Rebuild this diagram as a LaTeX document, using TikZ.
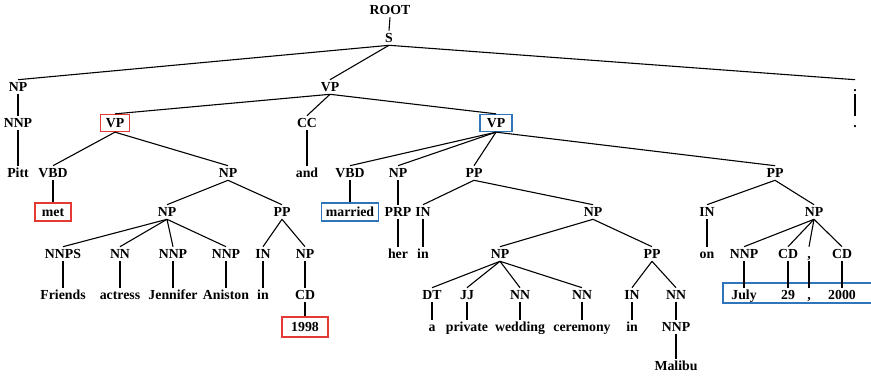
\documentclass[tikz,border=0pt]{standalone}
\usepackage{fontspec}
\setmainfont{Liberation Serif}
\definecolor{boxred}{RGB}{229,57,53}
\definecolor{boxblue}{RGB}{47,117,188}

\begin{document}
\begin{tikzpicture}[x=1pt, y=-1pt, line width=1.1pt,
    lbl/.style={font=\fontsize{13.8}{16}\selectfont\bfseries, inner sep=2pt, text height=9.5pt, text depth=0pt},
    redbox/.style={lbl, draw=boxred, line width=1.3pt, inner ysep=3.75pt},
    bluebox/.style={lbl, draw=boxblue, line width=1.3pt, inner ysep=3.75pt}]
	\useasboundingbox (0,0) rectangle (871,377);

	% tags and words, row by row
	\node[lbl] (root)  at (390,  10) {ROOT};
	\node[lbl] (s)     at (389,  38) {S};

	\node[lbl] (np1)   at (18 ,  87) {NP};
	\node[lbl] (vp1)   at (330,  87) {VP};
	\node[lbl] (pt1)   at (855,  87) {.};

	\node[lbl]     (nnp1) at (18 , 123) {NNP};
	\node[redbox, minimum width=29pt]  (vp2) at (115, 123) {VP};
	\node[lbl]     (cc)   at (307, 123) {CC};
	\node[bluebox, minimum width=32pt] (vp3) at (496, 123) {VP};
	\node[lbl]     (pt2)  at (855, 123) {.};

	\node[lbl] (pitt)  at (18 , 173) {Pitt};
	\node[lbl] (vbd1)  at (53 , 173) {VBD};
	\node[lbl] (np2)   at (228, 173) {NP};
	\node[lbl] (and)   at (307, 173) {and};
	\node[lbl] (vbd2)  at (350, 173) {VBD};
	\node[lbl] (np3)   at (398, 173) {NP};
	\node[lbl] (pp1)   at (474, 173) {PP};
	\node[lbl] (pp2)   at (775, 173) {PP};

	\node[redbox, minimum width=36pt, minimum height=18pt]  (met) at (53, 212) {met};
	\node[lbl] (np4)   at (167, 212) {NP};
	\node[lbl] (pp3)   at (282, 212) {PP};
	\node[bluebox, minimum width=57pt, minimum height=18pt] (married) at (350, 212) {married};
	\node[lbl] (prp)   at (398, 212) {PRP};
	\node[lbl] (in1)   at (423, 212) {IN};
	\node[lbl] (np5)   at (593, 212) {NP};
	\node[lbl] (in2)   at (707, 212) {IN};
	\node[lbl] (np6)   at (814, 212) {NP};

	\node[lbl] (nnps)  at (63 , 254) {NNPS};
	\node[lbl] (nn1)   at (120, 254) {NN};
	\node[lbl] (nnp2)  at (173, 254) {NNP};
	\node[lbl] (nnp3)  at (226, 254) {NNP};
	\node[lbl] (in3)   at (263, 254) {IN};
	\node[lbl] (np7)   at (305, 254) {NP};
	\node[lbl] (her)   at (398, 254) {her};
	\node[lbl] (win1)  at (423, 254) {in};
	\node[lbl] (np8)   at (500, 254) {NP};
	\node[lbl] (pp4)   at (652, 254) {PP};
	\node[lbl] (on)    at (707, 254) {on};
	\node[lbl] (nnp4)  at (744, 254) {NNP};
	\node[lbl] (cd1)   at (788, 254) {CD};
	\node[lbl] (cm1)   at (809, 254) {,};
	\node[lbl] (cd2)   at (842, 254) {CD};

	\node[lbl] (friends)  at (63 , 295) {Friends};
	\node[lbl] (actress)  at (120, 295) {actress};
	\node[lbl] (jennifer) at (173, 295) {Jennifer};
	\node[lbl] (aniston)  at (226, 295) {Aniston};
	\node[lbl] (win2)     at (263, 295) {in};
	\node[lbl] (cd3)      at (305, 295) {CD};
	\node[lbl] (dt)       at (432, 295) {DT};
	\node[lbl] (jj)       at (467, 295) {JJ};
	\node[lbl] (nn2)      at (520, 295) {NN};
	\node[lbl] (nn3)      at (582, 295) {NN};
	\node[lbl] (in4)      at (632, 295) {IN};
	\node[lbl] (nn4)      at (676, 295) {NN};
	\node[lbl] (july)     at (744, 295) {July};
	\node[lbl] (d29)      at (788, 295) {29};
	\node[lbl] (cm2)      at (809, 295) {,};
	\node[lbl] (d2000)    at (842, 295) {2000};

	\node[redbox, minimum width=46pt, minimum height=20pt] (d1998) at (305, 327) {1998};
	\node[lbl] (a)        at (432, 327) {a};
	\node[lbl] (private)  at (467, 327) {private};
	\node[lbl] (wedding)  at (520, 327) {wedding};
	\node[lbl] (ceremony) at (582, 327) {ceremony};
	\node[lbl] (win3)     at (632, 327) {in};
	\node[lbl] (nnp5)     at (676, 327) {NNP};

	\node[lbl] (malibu)   at (676, 366) {Malibu};

	% box round the date
	\draw[boxblue, line width=1.3pt] (723,283) rectangle (874,303);

	\def\branches {root/s, s/np1, s/vp1, s/pt1, np1/nnp1, nnp1/pitt, pt1/pt2,
		vp1/vp2, vp1/cc, vp1/vp3, cc/and, vp2/vbd1, vp2/np2, vbd1/met,
		np2/np4, np2/pp3, np4/nnps, np4/nn1, np4/nnp2, np4/nnp3,
		nnps/friends, nn1/actress, nnp2/jennifer, nnp3/aniston,
		pp3/in3, pp3/np7, in3/win2, np7/cd3, cd3/d1998}  % left half
	\foreach \u/\v in \branches
	{	\draw (\u.south) -- (\v.north);
	}
	\def\rightbranches {vp3/vbd2, vp3/np3, vp3/pp1, vp3/pp2, vbd2/married,
		np3/prp, prp/her, pp1/in1, pp1/np5, in1/win1, np5/np8, np5/pp4,
		np8/dt, np8/jj, np8/nn2, np8/nn3, dt/a, jj/private, nn2/wedding, nn3/ceremony,
		pp4/in4, pp4/nn4, in4/win3, nn4/nnp5, nnp5/malibu,
		pp2/in2, pp2/np6, in2/on, np6/nnp4, np6/cd1, np6/cm1, np6/cd2,
		nnp4/july, cd1/d29, cm1/cm2, cd2/d2000}  % right half
	\foreach \u/\v in \rightbranches
	{	\draw (\u.south) -- (\v.north);
	}
\end{tikzpicture}
\end{document}
